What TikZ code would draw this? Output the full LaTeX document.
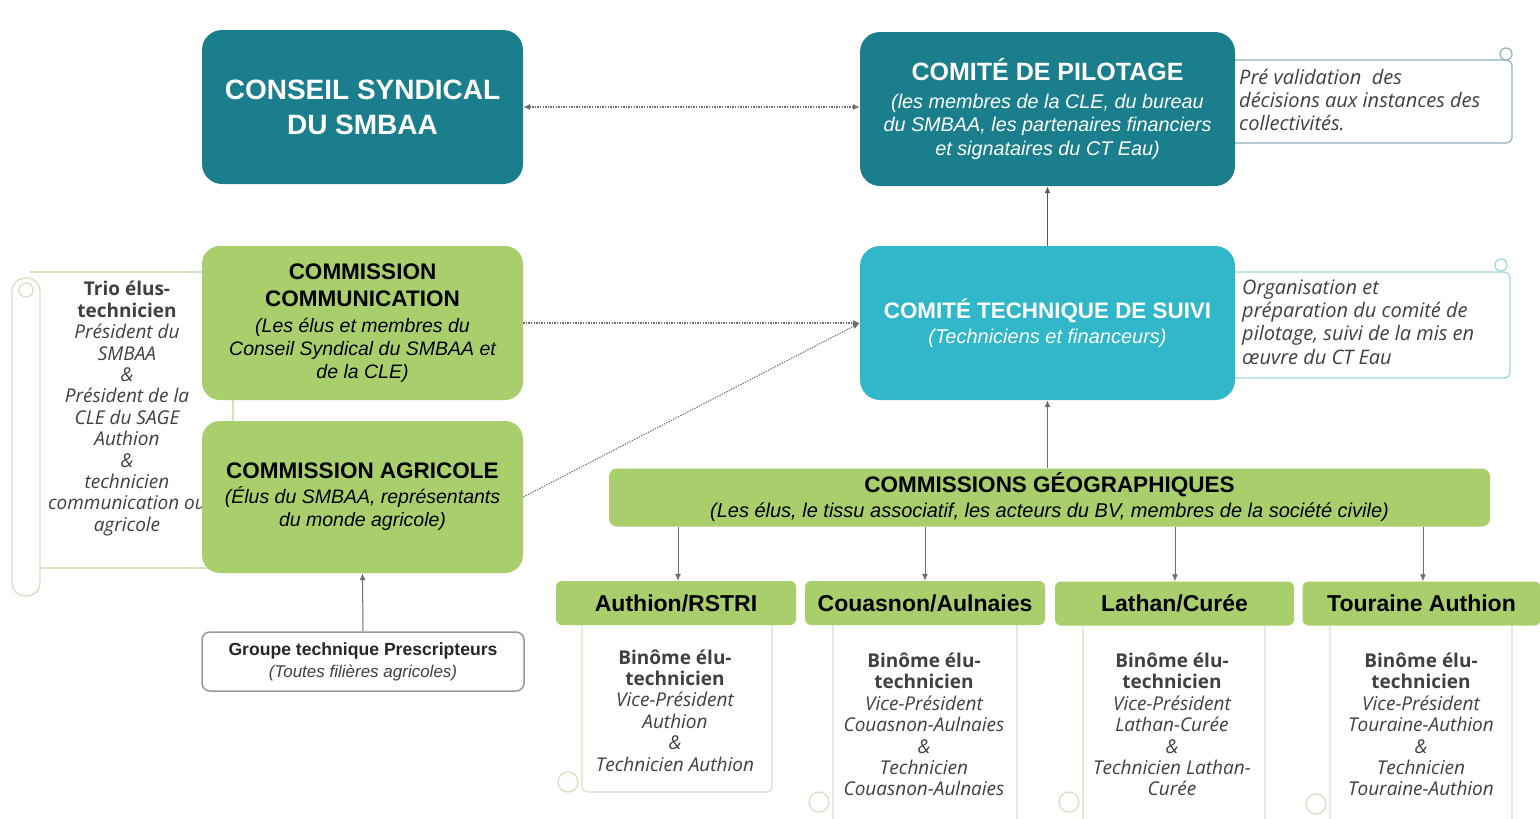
\documentclass[tikz,border=0pt]{standalone}
\usepackage{fontspec}
\setmainfont{Liberation Sans}
\newfontfamily\osans{Open Sans}
\usetikzlibrary{arrows.meta}
\definecolor{tealdark}{HTML}{1B7E8D}
\definecolor{cyanbox}{HTML}{30B7C9}
\definecolor{greenbox}{HTML}{A9CF6C}
\definecolor{scrollline}{HTML}{D3E3C2}
\definecolor{arrowgray}{HTML}{6E6E6E}
\definecolor{notegray}{HTML}{404040}
\definecolor{noteteal}{HTML}{8FB3BA}
\definecolor{notecyan}{HTML}{9DD8E1}
\begin{document}
\begin{tikzpicture}[x=1pt,y=-1pt,
  tealbox/.style={fill=tealdark, rounded corners=20pt, text=white, align=center, inner sep=0pt},
  cyanstyle/.style={fill=cyanbox, rounded corners=20pt, text=white, align=center, inner sep=0pt},
  greenstyle/.style={fill=greenbox, rounded corners=18pt, text=black, align=center, inner sep=0pt},
  headstyle/.style={fill=greenbox, rounded corners=6pt, text=black, align=center, inner sep=0pt,
    minimum height=44pt, font=\fontsize{23}{26}\selectfont\bfseries},
  whitebox/.style={fill=white, draw=gray!80, line width=1.5pt, rounded corners=8pt, align=center, inner sep=0pt},
  scrolltext/.style={align=center, text=notegray, inner sep=0pt, font=\osans\itshape\fontsize{19}{21.4}\selectfont},
  notetext/.style={align=left, text=notegray, inner sep=0pt, anchor=west, font=\osans\itshape\fontsize{20}{23.3}\selectfont},
  scrollpath/.style={draw=scrollline, line width=1.3pt},
  dotarr/.style={draw=arrowgray, line width=1.1pt, dash pattern=on 1.3pt off 1.3pt},
  conn/.style={draw=arrowgray, line width=1pt},
  tip/.style={-{Latex[length=7pt,width=6pt]}}
]
\useasboundingbox (0,0) rectangle (1540,819);
\fill[white] (0,0) rectangle (1540,819);

% ---- scrolls (behind boxes) ----
\draw[scrollpath] (30,272) -- (233,272) -- (233,568) -- (40,568);
\draw[scrollpath, rounded corners=13pt] (12,278) -- (12,596) -- (40,596) -- (40,278) -- cycle;
\draw[scrollpath] (26,290) circle (7);
\node[scrolltext] (trio) at (127,408.5) {{\bfseries\upshape Trio élus-}\\{\bfseries\upshape technicien}\\Président du\\SMBAA\\\&\\Président de la\\CLE du SAGE\\Authion\\\&\\technicien\\communication ou\\agricole};

% bottom scrolls
\draw[scrollpath, rounded corners=5pt] (582,615) -- (582,792) -- (772,792) -- (772,615);
\draw[scrollpath] (568,782) circle (10);
\draw[scrollpath, rounded corners=5pt] (833,615) -- (833,840) -- (1017,840) -- (1017,615);
\draw[scrollpath] (819,802) circle (10);
\draw[scrollpath, rounded corners=5pt] (1083,615) -- (1083,840) -- (1265,840) -- (1265,615);
\draw[scrollpath] (1069,802) circle (10);
\draw[scrollpath, rounded corners=5pt] (1330,615) -- (1330,840) -- (1512,840) -- (1512,615);
\draw[scrollpath] (1316,804) circle (10);

\node[scrolltext] (s1) at (675,710.5) {{\bfseries\upshape Binôme élu-}\\{\bfseries\upshape technicien}\\Vice-Président\\Authion\\\&\\Technicien Authion};
\node[scrolltext] (s2) at (924,724.5) {{\bfseries\upshape Binôme élu-}\\{\bfseries\upshape technicien}\\Vice-Président\\Couasnon-Aulnaies\\\&\\Technicien\\Couasnon-Aulnaies};
\node[scrolltext] (s3) at (1172,724.5) {{\bfseries\upshape Binôme élu-}\\{\bfseries\upshape technicien}\\Vice-Président\\Lathan-Curée\\\&\\Technicien Lathan-\\Curée};
\node[scrolltext] (s4) at (1421,724.5) {{\bfseries\upshape Binôme élu-}\\{\bfseries\upshape technicien}\\Vice-Président\\Touraine-Authion\\\&\\Technicien\\Touraine-Authion};

% notes
\draw[draw=noteteal, line width=1.2pt, rounded corners=6pt] (1220,60) -- (1512,60) -- (1512,143) -- (1220,143);
\draw[draw=noteteal, line width=1.2pt, fill=white] (1506,54) circle (6);
\node[notetext] (n1) at (1239,100) {Pré validation\ \ des\\décisions aux instances des\\collectivités.};
\draw[draw=notecyan, line width=1.2pt, rounded corners=6pt] (1220,272) -- (1510,272) -- (1510,378) -- (1220,378);
\draw[draw=notecyan, line width=1.2pt, fill=white] (1501,265) circle (6);
\node[notetext] (n2) at (1242,322) {Organisation et\\préparation du comité de\\pilotage, suivi de la mis en\\œuvre du CT Eau};

% ---- main boxes ----
\node[tealbox, minimum width=321pt, minimum height=154pt, font=\fontsize{28}{35}\selectfont\bfseries] (conseil) at (362.5,107) {CONSEIL SYNDICAL\\DU SMBAA};
\node[tealbox, minimum width=375pt, minimum height=154pt, font=\fontsize{19.8}{23.5}\selectfont\itshape] (pilotage) at (1047.5,109)
 {{\fontsize{25}{28}\selectfont\bfseries\upshape COMITÉ DE PILOTAGE}\\[4pt](les membres de la CLE, du bureau\\du SMBAA, les partenaires financiers\\et signataires du CT Eau)};
\node[greenstyle, minimum width=321pt, minimum height=154pt, font=\fontsize{19.5}{23}\selectfont\itshape] (comm) at (362.5,323)
 {{\fontsize{22.5}{23}\selectfont\bfseries\upshape COMMISSION}\\[4pt]{\fontsize{22.5}{23}\selectfont\bfseries\upshape COMMUNICATION}\\[3pt](Les élus et membres du\\Conseil Syndical du SMBAA et\\de la CLE)};
\node[greenstyle, minimum width=321pt, minimum height=152pt, font=\fontsize{19.5}{23}\selectfont\itshape] (agri) at (362.5,497)
 {{\fontsize{22.5}{23}\selectfont\bfseries\upshape COMMISSION AGRICOLE}\\[2pt](Élus du SMBAA, représentants\\du monde agricole)};
\node[cyanstyle, minimum width=375pt, minimum height=154pt, font=\fontsize{20}{23}\selectfont\itshape] (suivi) at (1047.5,323)
 {{\fontsize{22.4}{23}\selectfont\bfseries\upshape COMITÉ TECHNIQUE DE SUIVI}\\[2pt](Techniciens et financeurs)};
\node[whitebox, minimum width=322pt, minimum height=59pt, font=\fontsize{17}{19}\selectfont\itshape\color{notegray}] (groupe) at (363,661.5)
 {{\fontsize{17.6}{19}\selectfont\bfseries\upshape\color{black!85} Groupe technique Prescripteurs}\\[3pt](Toutes filières agricoles)};
\node[fill=greenbox, rounded corners=8pt, align=center, inner sep=0pt, minimum width=881pt, minimum height=58pt,
  font=\fontsize{20}{22}\selectfont\itshape] (geo) at (1049.5,497.5)
 {{\fontsize{22.5}{22}\selectfont\bfseries\upshape COMMISSIONS GÉOGRAPHIQUES}\\[3pt](Les élus, le tissu associatif, les acteurs du BV, membres de la société civile)};

\node[headstyle, minimum width=240pt] (h1) at (676,603) {Authion/RSTRI};
\node[headstyle, minimum width=240pt] (h2) at (925,603) {Couasnon/Aulnaies};
\node[headstyle, minimum width=239pt] (h3) at (1174.5,603.5) {Lathan/Curée};
\node[headstyle, minimum width=238pt] (h4) at (1421.5,603.5) {Touraine Authion};

% ---- connectors ----
\draw[dotarr, {Latex[length=7pt,width=6pt]}-{Latex[length=7pt,width=6pt]}] (conseil.east) -- (pilotage.west |- conseil.east);
\draw[dotarr, tip] (comm.east) -- (suivi.west);
\draw[dotarr, tip] (agri.east) -- (suivi.west);
\draw[draw=black!65, line width=1.8pt, tip] (suivi.north) -- (pilotage.south);
\draw[conn, tip] (suivi.south |- geo.north) -- (suivi.south);
\draw[conn, tip] (groupe.north) -- (agri.south);
\draw[conn, tip] (geo.south -| h1.north) ++(2,0) -- ([xshift=2pt]h1.north);
\draw[conn, tip] (geo.south -| h2.north) -- (h2.north);
\draw[conn, tip] (geo.south -| h3.north) ++(0.5,0) -- ([xshift=0.5pt]h3.north);
\draw[conn, tip] (geo.south -| h4.north) ++(1.5,0) -- ([xshift=1.5pt]h4.north);
\end{tikzpicture}
\end{document}
